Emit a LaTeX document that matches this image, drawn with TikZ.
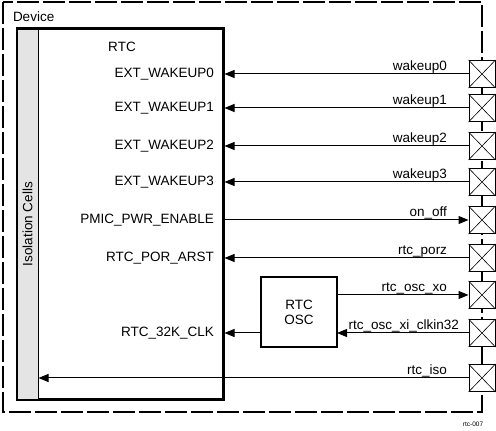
\documentclass[tikz,border=0pt]{standalone}
\usepackage{fontspec}
\setmainfont{Liberation Sans}
\usetikzlibrary{arrows.meta}

\begin{document}
\begin{tikzpicture}[x=1pt,y=1pt,
  lbl/.style={inner sep=0pt, outer sep=0pt, font=\fontsize{13.5}{15}\selectfont},
  pad/.style={draw=drawColor, fill=white, line width=1pt, inner sep=0pt, minimum width=26pt, minimum height=27pt},
  sig/.style={draw=drawColor, line width=1pt, -{Triangle[length=10pt,width=8pt]}},
  padx/.style={draw=drawColor, line width=0.6pt}]
\definecolor{fillColor}{RGB}{255,255,255}
\definecolor{drawColor}{RGB}{0,0,0}
\definecolor{isoColor}{RGB}{228,228,228}
\path[use as bounding box,fill=fillColor] (0,0) rectangle (496,431);

% device outline
\path[draw=drawColor,line width=2pt,dash pattern=on 22pt off 4pt] (3,429) rectangle (482,19);
\node[lbl,anchor=west] (dev) at (13,414) {Device};

% rtc block
\node[draw=drawColor,line width=3pt,inner sep=0pt,minimum width=206pt,minimum height=371pt] (rtc) at (120,216.5) {};
\node[draw=drawColor,fill=isoColor,line width=1pt,inner sep=0pt,minimum width=21pt,minimum height=370pt] (iso) at (27.5,216.5) {};
\node[lbl,rotate=90] (isotxt) at (27.5,207) {Isolation Cells};
\node[lbl] (rtctxt) at (122,384) {RTC};

% oscillator
\node[draw=drawColor,line width=2pt,inner sep=0pt,minimum width=76pt,minimum height=70pt,align=center,lbl] (osc) at (299,119) {RTC\\OSC};

% pads
\node[pad] (p0) at (482,357) {};
\node[pad] (p1) at (482,323) {};
\node[pad] (p2) at (482,285) {};
\node[pad] (p3) at (482,249) {};
\node[pad] (p4) at (482,211) {};
\node[pad] (p5) at (482,173) {};
\node[pad] (p6) at (482,136) {};
\node[pad] (p7) at (482,98) {};
\node[pad] (p8) at (482,53) {};

\path[padx] (p0.north west) -- (p0.south east) (p0.south west) -- (p0.north east);
\path[padx] (p1.north west) -- (p1.south east) (p1.south west) -- (p1.north east);
\path[padx] (p2.north west) -- (p2.south east) (p2.south west) -- (p2.north east);
\path[padx] (p3.north west) -- (p3.south east) (p3.south west) -- (p3.north east);
\path[padx] (p4.north west) -- (p4.south east) (p4.south west) -- (p4.north east);
\path[padx] (p5.north west) -- (p5.south east) (p5.south west) -- (p5.north east);
\path[padx] (p6.north west) -- (p6.south east) (p6.south west) -- (p6.north east);
\path[padx] (p7.north west) -- (p7.south east) (p7.south west) -- (p7.north east);
\path[padx] (p8.north west) -- (p8.south east) (p8.south west) -- (p8.north east);

% pin names inside rtc
\node[lbl,anchor=east] (n0) at (214,357) {EXT\_WAKEUP0};
\node[lbl,anchor=east] (n1) at (214,323) {EXT\_WAKEUP1};
\node[lbl,anchor=east] (n2) at (214,285) {EXT\_WAKEUP2};
\node[lbl,anchor=east] (n3) at (214,249) {EXT\_WAKEUP3};
\node[lbl,anchor=east] (n4) at (214,211) {PMIC\_PWR\_ENABLE};
\node[lbl,anchor=east] (n5) at (214,173) {RTC\_POR\_ARST};
\node[lbl,anchor=east] (n7) at (214,98) {RTC\_32K\_CLK};

% wires
\path[sig] (p0.west) -- (p0.west -| rtc.east);
\path[sig] (p1.west) -- (p1.west -| rtc.east);
\path[sig] (p2.west) -- (p2.west -| rtc.east);
\path[sig] (p3.west) -- (p3.west -| rtc.east);
\path[sig] (rtc.east |- p4.west) -- (p4.west);
\path[sig] (p5.west) -- (p5.west -| rtc.east);
\path[sig] (osc.east |- p6.west) -- (p6.west);
\path[sig] (p7.west) -- (p7.west -| osc.east);
\path[sig] (osc.west |- p7.west) -- (p7.west -| rtc.east);
\path[sig] (p8.west) -- (p8.west -| iso.east);

% signal names
\node[lbl,anchor=base east] (s0) at (447,360) {wakeup0};
\node[lbl,anchor=base east] (s1) at (447,326) {wakeup1};
\node[lbl,anchor=base east] (s2) at (447,288) {wakeup2};
\node[lbl,anchor=base east] (s3) at (447,252) {wakeup3};
\node[lbl,anchor=base east] (s4) at (447,214) {on\_off};
\node[lbl,anchor=base east] (s5) at (447,176) {rtc\_porz};
\node[lbl,anchor=base east] (s6) at (447,139) {rtc\_osc\_xo};
\node[lbl,anchor=base east] (s7) at (459,101) {rtc\_osc\_xi\_clkin32};
\node[lbl,anchor=base east] (s8) at (447,56) {rtc\_iso};

\node[inner sep=0pt,font=\fontsize{6.5}{7}\selectfont] (tag) at (473,6.5) {rtc-007};
\end{tikzpicture}
\end{document}
